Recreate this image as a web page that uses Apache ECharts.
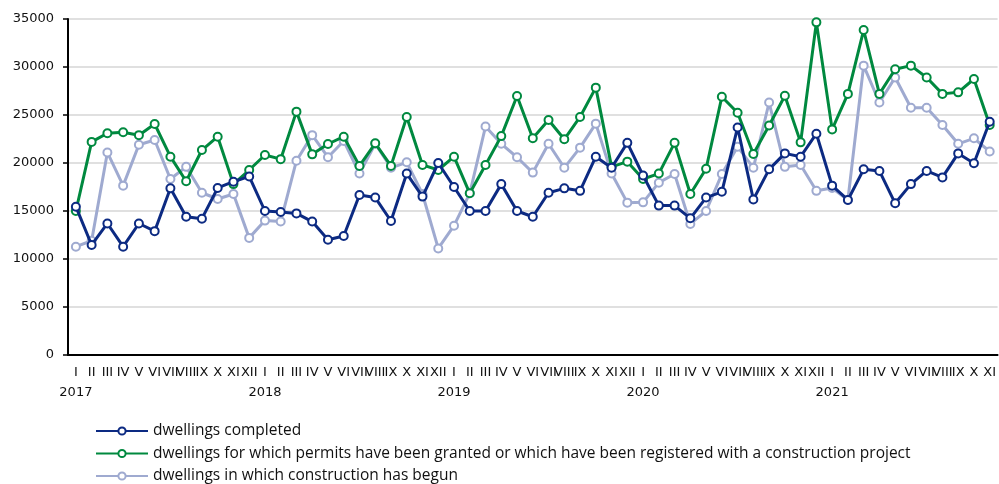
<!DOCTYPE html>
<html><head><meta charset="utf-8">
<script src="https://cdn.jsdelivr.net/npm/echarts@6/dist/echarts.min.js"></script>
<style>html,body{margin:0;padding:0;background:#fff}#c{width:999px;height:484px}</style>
</head><body><div id="c"></div>
<script>
const years = ['2017','2018','2019','2020','2021'];
const months = ['I','II','III','IV','V','VI','VII','VIII','IX','X','XI','XII'];
const monthsInLastYear = 11;
const completed = [15450,11460,13700,11280,13700,12900,17360,14400,14200,17400,18050,18600,
  15000,14900,14750,13900,12000,12400,16670,16400,13960,18900,16500,20000,
  17500,15000,15000,17800,15000,14400,16900,17360,17100,20660,19500,22100,
  18700,15560,15560,14240,16400,17000,23700,16200,19340,21000,20660,23050,
  17640,16150,19340,19170,15800,17800,19170,18500,21000,19970,24300];
const permits = [15000,22200,23100,23200,22900,24060,20660,18100,21350,22740,17800,19270,
  20830,20400,25350,20900,21980,22740,19700,22050,19700,24800,19800,19270,
  20660,16840,19800,22800,26980,22570,24480,22470,24800,27850,19600,20140,
  18330,18900,22100,16770,19400,26900,25240,20940,23900,27000,22150,34650,
  23500,27200,33850,27200,29760,30140,28900,27200,27360,28750,23960];
const begun = [11280,11900,21100,17640,21900,22400,18330,19600,16900,16250,16770,12200,
  14000,13900,20240,22900,20600,22300,18900,22000,19500,20070,16770,11100,
  13470,16840,23800,22000,20600,19000,22000,19500,21600,24100,18900,15870,
  15900,17950,18850,13650,15000,18850,21700,19500,26300,19600,19800,17100,
  17400,16150,30140,26300,28900,25760,25760,23960,22000,22570,21200];
const seriesNames = ['dwellings completed',
  'dwellings for which permits have been granted or which have been registered with a construction project',
  'dwellings in which construction has begun'];
const colors = ['#0c2a82','#00893f','#9faad0'];

const cats = [];
years.forEach((y, yi) => {
  const n = yi === years.length - 1 ? monthsInLastYear : 12;
  for (let m = 0; m < n; m++) cats.push(y + '|' + months[m]);
});
const seriesData = [completed, permits, begun];
const chart = echarts.init(document.getElementById('c'));
chart.setOption({
  animation: false,
  textStyle: {fontFamily: 'DejaVu Sans'},
  grid: {left: 68, top: 19, height: 336, width: 937},
  xAxis: {
    type: 'category', data: cats, boundaryGap: true,
    axisLine: {lineStyle: {color: '#000', width: 2}},
    axisTick: {show: false},
    axisLabel: {
      interval: 0, hideOverlap: false, margin: 8, fontSize: 13, color: '#111', lineHeight: 20,
      fontFamily: 'DejaVu Sans',
      formatter: v => {
        const [y, m] = v.split('|');
        return m === 'I' ? m + '\n' + y : m;
      }
    }
  },
  yAxis: {
    type: 'value', min: 0, max: 35000, interval: 5000,
    axisLine: {show: true, lineStyle: {color: '#000', width: 2}},
    axisTick: {show: true, length: 5, lineStyle: {color: '#000', width: 1.5}},
    axisLabel: {fontSize: 13, color: '#111', margin: 14, fontFamily: 'DejaVu Sans',
      formatter: v => String(v)},
    splitLine: {lineStyle: {color: '#d6d6d6', width: 1.5}}
  },
  legend: {
    orient: 'vertical', left: 90, top: 418, height: 120, itemGap: 6.5,
    itemWidth: 52, itemHeight: 9,
    textStyle: {fontSize: 15.5, lineHeight: 14, color: '#111', fontFamily: 'Open Sans'},
    data: seriesNames
  },
  series: seriesNames.map((name, i) => ({
    name, type: 'line', data: seriesData[i],
    symbol: 'circle', symbolSize: 8,
    lineStyle: {color: colors[i], width: 3},
    itemStyle: {color: '#fff', borderColor: colors[i], borderWidth: 2},
    z: i === 2 ? 1 : (i === 1 ? 2 : 3)
  }))
});
</script></body></html>
